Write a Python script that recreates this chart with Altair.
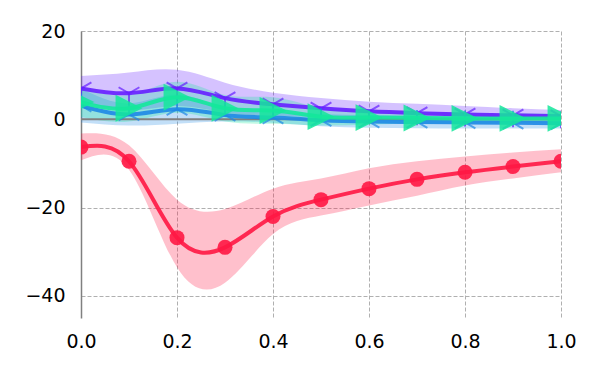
import altair as alt
import pandas as pd

x = [0.0, 0.1, 0.2, 0.3, 0.4, 0.5, 0.6, 0.7, 0.8, 0.9, 1.0]

red_mean = [-6.3, -9.5, -26.8, -29.0, -22.0, -18.2, -15.7, -13.6, -12.0, -10.7, -9.5]
red_lo = [-9.3, -11.4, -33.5, -37.0, -26.0, -21.8, -19.5, -17.3, -15.0, -13.4, -12.0]
red_hi = [-3.2, -5.9, -18.2, -20.3, -15.7, -13.4, -11.1, -9.5, -8.4, -7.5, -6.8]

purple_mean = [7.0, 5.9, 7.0, 4.8, 3.4, 2.5, 1.8, 1.4, 1.1, 0.9, 0.7]
purple_lo = [4.2, 2.0, 3.0, 1.5, 0.8, 0.4, 0.0, -0.3, -0.4, -0.5, -0.6]
purple_hi = [9.8, 10.6, 11.2, 8.3, 6.0, 4.8, 4.0, 3.5, 3.0, 2.5, 2.1]

blue_mean = [3.1, 1.1, 2.3, 1.0, 0.4, -0.2, -0.5, -0.6, -0.7, -0.8, -0.9]
blue_lo = [-0.7, -1.4, -1.0, -0.5, -0.8, -1.6, -1.9, -2.0, -2.1, -2.1, -2.1]
blue_hi = [6.9, 3.6, 5.6, 2.5, 1.6, 1.2, 0.9, 0.8, 0.7, 0.5, 0.3]

green_mean = [3.9, 2.5, 5.0, 2.5, 2.0, 0.6, 0.4, 0.3, 0.2, 0.2, 0.2]
green_lo = [0.5, -0.5, 1.5, -0.5, -1.0, -1.4, -1.2, -1.0, -1.0, -0.9, -0.9]
green_hi = [7.3, 5.5, 8.5, 5.5, 5.0, 2.6, 2.0, 1.6, 1.4, 1.3, 1.3]

series_names = ["red", "purple", "blue", "green"]
colors = ["#FF1744", "#651FFF", "#1E88E5", "#14E89B"]

TRI_DOWN = "M0,0L0,1M0,0L-0.866,-0.5M0,0L0.866,-0.5"
TRI_UP = "M0,0L0,-1M0,0L-0.866,0.5M0,0L0.866,0.5"
TRI_RIGHT = "M-1,-1L1,0L-1,1Z"

data = {
    "red": (red_mean, red_lo, red_hi),
    "purple": (purple_mean, purple_lo, purple_hi),
    "blue": (blue_mean, blue_lo, blue_hi),
    "green": (green_mean, green_lo, green_hi),
}

frames = {}
for name in series_names:
    m, lo, hi = data[name]
    frames[name] = pd.DataFrame({"x": x, "mean": m, "lo": lo, "hi": hi})

xscale = alt.Scale(domain=[0, 1], nice=False, zero=False)
yscale = alt.Scale(domain=[-45, 20], nice=False, zero=False)

xaxis = alt.Axis(values=[0, 0.2, 0.4, 0.6, 0.8, 1.0], format=".1f", labelFontSize=19,
                 labelFont="DejaVu Sans", labelColor="black", ticks=False, domain=False,
                 grid=True, gridDash=[4, 2], gridColor="#b0b0b0", gridWidth=1,
                 labelPadding=14, labelFlush=False, labelOverlap=False, title=None)
yaxis = alt.Axis(values=[-40, -20, 0, 20], format="d", labelFontSize=19,
                 labelFont="DejaVu Sans", labelColor="black", ticks=False, domain=True,
                 domainColor="#808080", domainWidth=1.5,
                 grid=True, gridDash=[4, 2], gridColor="#b0b0b0", gridWidth=1,
                 labelPadding=16, labelFlush=False, title=None)

INTERP = "natural"

layers = []
# bands
for i, name in enumerate(series_names):
    band = alt.Chart(frames[name]).mark_area(
        color=colors[i], opacity=0.27, interpolate=INTERP, clip=True
    ).encode(
        x=alt.X("x:Q", scale=xscale, axis=xaxis),
        y=alt.Y("lo:Q", scale=yscale, axis=yaxis),
        y2="hi:Q",
    )
    layers.append(band)

zero_df = pd.DataFrame({"y": [0]})
zero = alt.Chart(zero_df).mark_rule(color="#808080", strokeWidth=2).encode(
    y=alt.Y("y:Q", scale=yscale)
)
layers.append(zero)

point_styles = {
    "red": dict(shape="circle", filled=True, size=225, opacity=0.9),
    "purple": dict(shape=TRI_DOWN, filled=False, size=576, strokeWidth=2),
    "blue": dict(shape=TRI_UP, filled=False, size=576, strokeWidth=2),
    "green": dict(shape=TRI_RIGHT, filled=True, size=720, opacity=0.85),
}

for i, name in enumerate(series_names):
    line = alt.Chart(frames[name]).mark_line(
        color=colors[i], strokeWidth=4, interpolate=INTERP, clip=True, opacity=0.9
    ).encode(
        x=alt.X("x:Q", scale=xscale),
        y=alt.Y("mean:Q", scale=yscale),
    )
    pts = alt.Chart(frames[name]).mark_point(
        color=colors[i], clip=True, **point_styles[name]
    ).encode(
        x=alt.X("x:Q", scale=xscale),
        y=alt.Y("mean:Q", scale=yscale),
    )
    layers.append(line)
    layers.append(pts)

chart = alt.layer(*layers).properties(
    width=480, height=287,
    padding={"left": 73, "top": 23, "right": 20, "bottom": 40},
    autosize=alt.AutoSizeParams(type="none"),
).configure_view(stroke=None)

chart.save("out.html", embed_options={"renderer": "svg", "actions": False})
